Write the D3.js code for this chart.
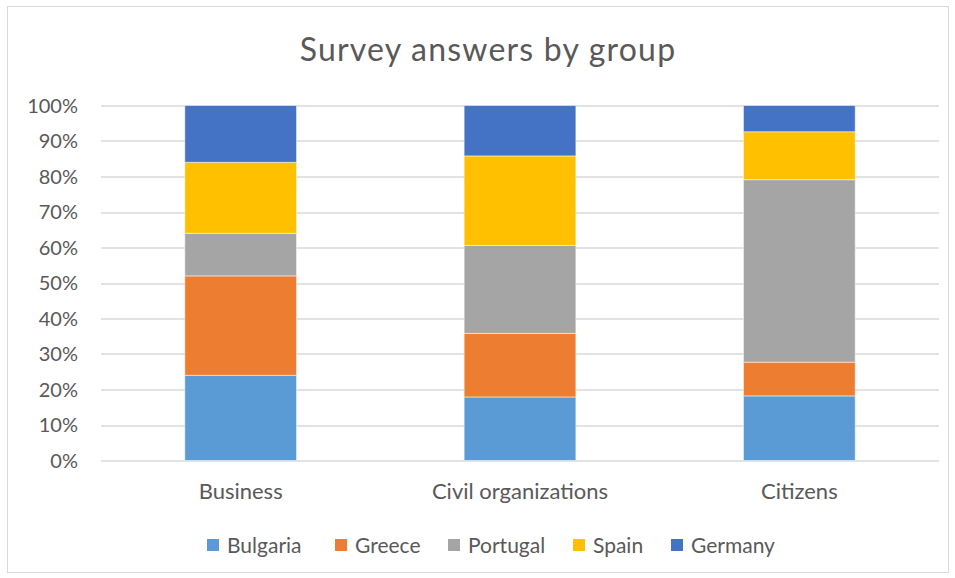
<!DOCTYPE html>
<html>
<head>
<meta charset="utf-8">
<script src="https://cdn.jsdelivr.net/npm/d3@7"></script>
<style>
  body { margin: 0; background: #fff; }
  text { font-family: Lato, "Open Sans", sans-serif; fill: #595959; }
</style>
</head>
<body>
<div id="chart"></div>
<script>
// data (percent of each group)
const groups = ["Business", "Civil organizations", "Citizens"];
const countries = ["Bulgaria", "Greece", "Portugal", "Spain", "Germany"];
const bulgaria = [24, 17.9, 18.2];
const greece   = [28, 17.9, 9.5];
const portugal = [12, 24.8, 51.4];
const spain    = [20, 25.2, 13.5];
const germany  = [16, 14.2, 7.4];
const yTicks = [0, 10, 20, 30, 40, 50, 60, 70, 80, 90, 100];
const colors = ["#5b9bd5", "#ed7d31", "#a5a5a5", "#ffc000", "#4472c4"];

const width = 955, height = 578;
const margin = { top: 105.5, right: 16, bottom: 117.5, left: 101 };
const plotW = width - margin.left - margin.right;
const plotH = height - margin.top - margin.bottom;

const series = [bulgaria, greece, portugal, spain, germany];
const data = groups.map(function(g, i) {
  let row = { group: g };
  countries.forEach(function(c, j) { row[c] = series[j][i]; });
  return row;
});

const svg = d3.select("#chart").append("svg")
  .attr("width", width)
  .attr("height", height);

// outer border
svg.append("rect")
  .attr("x", 7.5).attr("y", 6.5)
  .attr("width", 941).attr("height", 566)
  .attr("fill", "#fff")
  .attr("stroke", "#d9d9d9");

svg.append("text")
  .attr("x", 488)
  .attr("y", 61)
  .attr("text-anchor", "middle")
  .style("font-size", "32px")
  .style("letter-spacing", "1.2px")
  .text("Survey answers by group");

const g = svg.append("g")
  .attr("transform", "translate(" + margin.left + "," + margin.top + ")");

const x = d3.scaleBand()
  .domain(groups)
  .range([0, plotW])
  .paddingInner(0.6)
  .paddingOuter(0.3);

const y = d3.scaleLinear()
  .domain([0, 100])
  .range([plotH, 0]);

// gridlines
g.append("g")
  .selectAll("line")
  .data(yTicks)
  .enter().append("line")
    .attr("x1", 0).attr("x2", plotW)
    .attr("y1", function(d) { return Math.round(y(d)) + 0.5; })
    .attr("y2", function(d) { return Math.round(y(d)) + 0.5; })
    .attr("stroke", "#d9d9d9")
    .attr("stroke-width", 1.5);

// y labels
g.append("g")
  .selectAll("text")
  .data(yTicks)
  .enter().append("text")
    .attr("x", -23)
    .attr("y", function(d) { return y(d); })
    .attr("dy", "0.36em")
    .attr("text-anchor", "end")
    .style("font-size", "20px")
    .text(function(d) { return d + "%"; });

// x labels
g.append("g")
  .selectAll("text")
  .data(groups)
  .enter().append("text")
    .attr("x", function(d) { return x(d) + x.bandwidth() / 2; })
    .attr("y", plotH + 38.5)
    .attr("text-anchor", "middle")
    .style("font-size", "22px")
    .text(function(d) { return d; });

const stacked = d3.stack().keys(countries)(data);

g.append("g")
  .selectAll("g")
  .data(stacked)
  .enter().append("g")
    .attr("fill", function(d, i) { return colors[i]; })
  .selectAll("rect")
  .data(function(d) { return d; })
  .enter().append("rect")
    .attr("x", function(d) { return x(d.data.group); })
    .attr("y", function(d) { return y(d[1]); })
    .attr("height", function(d) { return y(d[0]) - y(d[1]); })
    .attr("width", x.bandwidth())
    .attr("stroke", "#fff")
    .attr("stroke-opacity", 0.5)
    .attr("stroke-width", 1);

// legend
const legendX = [207, 335, 448, 573, 671];
const leg = svg.append("g")
  .selectAll("g")
  .data(countries)
  .enter().append("g")
    .attr("transform", function(d, i) { return "translate(" + legendX[i] + ",545)"; });

leg.append("rect")
  .attr("x", 0).attr("y", -6)
  .attr("width", 12).attr("height", 12)
  .attr("fill", function(d, i) { return colors[i]; });

leg.append("text")
  .attr("x", 20)
  .attr("y", 0)
  .attr("dy", "0.36em")
  .style("font-size", "21px")
  .text(function(d) { return d; });
</script>
</body>
</html>
